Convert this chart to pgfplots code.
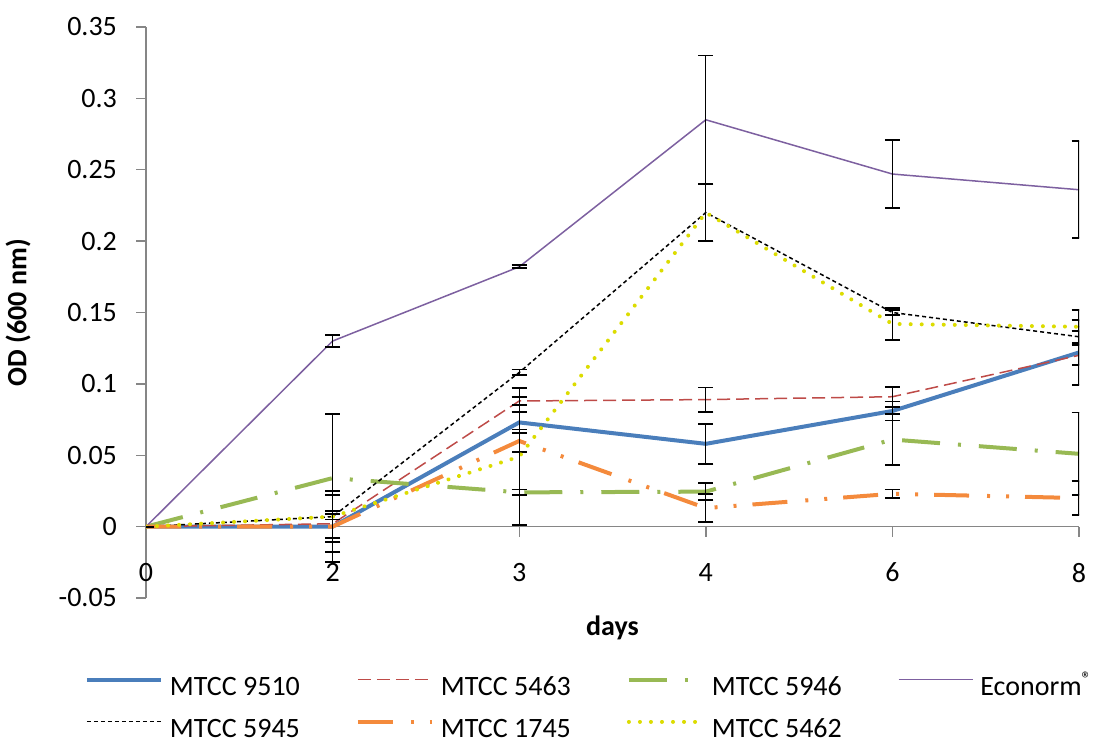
\documentclass[border=0pt]{standalone}
\usepackage{fontspec}
\setmainfont{Carlito}
\usepackage{pgfplots}
\usepackage{pgfplotstable}
\pgfplotsset{compat=1.18}
\definecolor{axisgray}{HTML}{868686}
\definecolor{cblue}{HTML}{4A7EBB}
\definecolor{cred}{HTML}{BE4B48}
\definecolor{cgreen}{HTML}{98B954}
\definecolor{cpurple}{HTML}{7D60A0}
\definecolor{corange}{HTML}{F48A3C}
\definecolor{cyellow}{HTML}{DCDC00}

\pgfplotstableread{
x y e
0 0     0
1 0     0.025
2 0.073 0.0075
3 0.058 0.014
4 0.081 0.0067
5 0.122 0.023
}\tblA
\pgfplotstableread{
x y e
0 0     0
1 0.002 0.02
2 0.088 0.003
3 0.089 0.0085
4 0.091 0.007
5 0.120 0.007
}\tblB
\pgfplotstableread{
x y e
0 0      0
1 0.034  0.045
2 0.024  0.002
3 0.0245 0.006
4 0.061  0.018
5 0.051  0.029
}\tblC
\pgfplotstableread{
x y e
0 0     0
1 0.130 0.004
2 0.182 0.001
3 0.285 0.045
4 0.247 0.024
5 0.236 0.034
}\tblD
\pgfplotstableread{
x y e
0 0     0
1 0.007 0.015
2 0.108 0.002
3 0.220 0.02
4 0.150 0.002
5 0.133 0.004
}\tblE
\pgfplotstableread{
x y e
0 0     0
1 0     0.011
2 0.060 0.008
3 0.013 0.01
4 0.023 0.003
5 0.020 0.012
}\tblF
\pgfplotstableread{
x y e
0 0     0
1 0.007 0.002
2 0.049 0.048
3 0.220 0.02
4 0.142 0.011
5 0.140 0.012
}\tblG

\pgfplotsset{eb/.style={error bars/.cd, y dir=both, y explicit,
  error bar style={black, line width=0.6pt, solid},
  error mark options={black, rotate=90, mark size=3.75pt, line width=0.9pt, solid}}}

\begin{document}
\begin{tikzpicture}[x=1pt,y=1pt]
\path[use as bounding box] (0,0) rectangle (553.5,372);
\begin{axis}[
  at={(73pt,73pt)}, anchor=south west,
  scale only axis, width=466.5pt, height=285.5pt,
  xmin=0, xmax=5, ymin=-0.05, ymax=0.35,
  axis x line=middle, axis y line=left,
  axis line style={draw=axisgray, line width=0.7pt, -},
  xtick={0,1,2,3,4,5}, xticklabels={0,2,3,4,6,8},
  ytick={-0.05,0,0.05,0.1,0.15,0.2,0.25,0.3,0.35},
  yticklabels={-0.05,0,0.05,0.1,0.15,0.2,0.25,0.3,0.35},
  tick align=outside, major tick length=5pt,
  tick style={draw=axisgray, line width=0.7pt},
  hide obscured x ticks=false, hide obscured y ticks=false,
  tick label style={font=\fontsize{14}{16}\selectfont},
  xticklabel style={anchor=center, yshift=-18pt},
  yticklabel style={anchor=east, xshift=-6pt},
  xlabel={\textbf{days}}, ylabel={\textbf{OD (600 nm)}},
  label style={font=\fontsize{14}{16}\selectfont},
  xlabel style={at={(axis description cs:0.5,-0.0525)}, anchor=center},
  ylabel style={at={(axis description cs:-0.137,0.5)}, anchor=center},
  legend columns=4,
  legend style={at={(axis description cs:-0.0654,-0.136)}, anchor=north west,
    draw=none, inner sep=0pt, outer sep=0pt, row sep=10pt,
    font=\fontsize{14}{16}\selectfont,
    nodes={inner sep=0pt, text height=10pt, text depth=1pt, anchor=west},
    /tikz/every odd column/.style={column sep=3.5pt},
    /tikz/every even column/.style={column sep=28pt}},
  legend cell align=left,
  legend image code/.code={\draw[#1] (0pt,3.5pt) -- (37pt,3.5pt);},
]
\addplot[cblue, line width=2pt, eb] table[x=x,y=y,y error=e]{\tblA};
\addlegendentry{MTCC 9510}
\addplot[cred, line width=0.75pt, dash pattern=on 6.5pt off 3pt, eb] table[x=x,y=y,y error=e]{\tblB};
\addlegendentry{MTCC 5463}
\addplot[cgreen, line width=2pt, dash pattern=on 19pt off 9pt on 1.5pt off 9pt, eb] table[x=x,y=y,y error=e]{\tblC};
\addlegendentry{MTCC 5946}
\addplot[cpurple, line width=0.75pt, eb] table[x=x,y=y,y error=e]{\tblD};
\addlegendentry{Econorm\textsuperscript{\textregistered}}
\addplot[black, line width=0.75pt, dash pattern=on 2pt off 1.5pt, eb] table[x=x,y=y,y error=e]{\tblE};
\addlegendentry{MTCC 5945}
\addplot[corange, line width=2pt, dash pattern=on 17.5pt off 9pt on 1.5pt off 8pt on 1.5pt off 8pt, eb] table[x=x,y=y,y error=e]{\tblF};
\addlegendentry{MTCC 1745}
\addplot[cyellow, line width=2pt, line cap=round, dash pattern=on 0.01pt off 5.5pt, eb] table[x=x,y=y,y error=e]{\tblG};
\addlegendentry{MTCC 5462}
\end{axis}
\end{tikzpicture}
\end{document}
